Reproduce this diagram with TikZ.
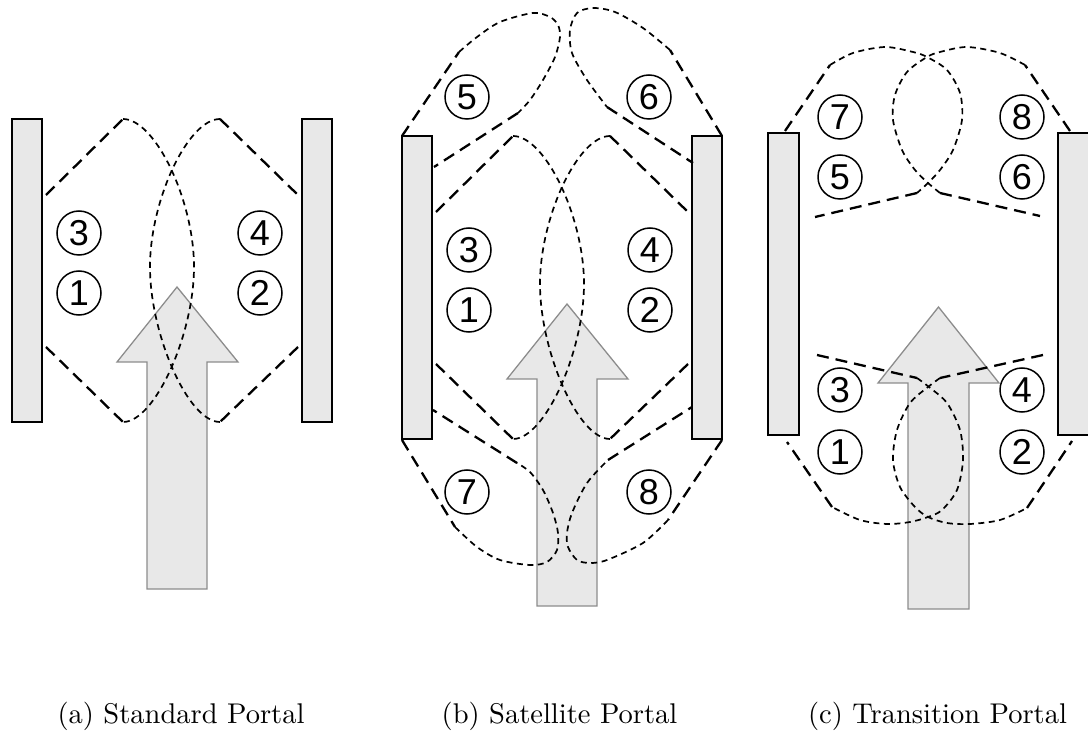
\documentclass[tikz,border=0pt]{standalone}
\usepackage{fontspec}
\newfontfamily\numfont{Liberation Sans}
\begin{document}
\begin{tikzpicture}[x=1pt,y=-1pt,
  wall/.style={draw=black,fill=black!9,line width=1.8pt},
  flow/.style={draw=black!45,fill=black!9,line width=1.3pt,line join=miter},
  longdash/.style={line width=2.3pt,dash pattern=on 12pt off 7pt},
  shortdash/.style={line width=1.7pt,dash pattern=on 6pt off 4.5pt},
  zone/.style={circle,draw,line width=1.5pt,minimum size=44pt,inner sep=0pt,
    font=\numfont\fontsize{36}{36}\selectfont},
  subcap/.style={scale=2.85,font=\normalsize,anchor=base},
  % two walls, the flow arrow and the four overlapping zones between them
  portal core/.pic={
    \path[wall] (12,119) rectangle (42,422);
    \path[wall] (302,119) rectangle (332,422);
    \path[flow] (177,287) -- (238,362) -- (207,362) -- (207,589) -- (147,589)
      -- (147,362) -- (117,362) -- cycle;
    \draw[longdash] (46,195) -- (123,119);
    \draw[longdash] (220,119) -- (298,195);
    \draw[longdash] (46,347) -- (123,422);
    \draw[longdash] (298,347) -- (220,422);
    \draw[shortdash] (123,119) .. controls (155,119) and (194,200) .. (194,267)
      .. controls (194,334) and (155,422) .. (123,422);
    \draw[shortdash] (220,119) .. controls (188,119) and (150,200) .. (150,267)
      .. controls (150,334) and (188,422) .. (220,422);
    \node[zone] (-z3) at (79,233) {3};
    \node[zone] (-z1) at (79,293) {1};
    \node[zone] (-z4) at (260,233) {4};
    \node[zone] (-z2) at (260,293) {2};
  }]
\useasboundingbox (0,0) rectangle (1088,735);

% (a) standard portal
\pic (pa) at (0,0) {portal core};

% (b) satellite portal: the same core plus four satellite zones
\pic (pb) at (390,17) {portal core};
\draw[longdash] (402,136) -- (459,52);
\draw[shortdash] plot[smooth] coordinates {(459,52) (477,37) (500,22) (533,13)
  (550,17) (558,25) (560,37) (555,57) (543,80) (530,100) (518,113)};
\draw[longdash] (518,113) -- (434,167);
\draw[longdash] (722,136) -- (670,50);
\draw[shortdash] plot[smooth] coordinates {(670,50) (643,28) (615,12) (593,8)
  (577,13) (570,30) (572,53) (587,80) (607,107)};
\draw[longdash] (607,107) -- (693,163);
\draw[longdash] (402,440) -- (455,527);
\draw[shortdash] plot[smooth] coordinates {(455,527) (477,547) (500,560) (530,565)
  (547,562) (557,550) (558,533) (553,513) (543,490) (530,472) (517,463)};
\draw[longdash] (517,463) -- (433,410);
\draw[longdash] (722,440) -- (668,520);
\draw[shortdash] plot[smooth] coordinates {(668,520) (643,543) (607,560) (590,563)
  (577,560) (568,547) (567,533) (572,513) (587,483) (608,460)};
\draw[longdash] (608,460) -- (692,407);
\node[zone] (b5) at (467,97) {5};
\node[zone] (b6) at (649,97) {6};
\node[zone] (b7) at (467,492) {7};
\node[zone] (b8) at (649,492) {8};

% (c) transition portal
\path[wall] (768,133) rectangle (799,435);
\path[wall] (1058,133) rectangle (1094,435);
\path[flow] (938.5,307) -- (999,383) -- (969,383) -- (969,609) -- (908,609)
  -- (908,383) -- (878,383) -- cycle;
\draw[longdash] (785,131) -- (830,65);
\draw[shortdash] plot[smooth] coordinates {(830,65) (853,53) (885,47) (913,52)
  (927,57) (947,70) (960,93) (962,120) (953,150) (940,170) (928,183) (917,193)};
\draw[longdash] (917,193) -- (815,217);
\draw[longdash] (1070,131) -- (1025,65);
\draw[shortdash] plot[smooth] coordinates {(1025,65) (1000,53) (967,47) (940,52)
  (927,57) (907,72) (895,95) (893,120) (902,150) (915,170) (928,183) (940,193)};
\draw[longdash] (940,193) -- (1040,216);
\draw[longdash] (817,355) -- (917,378);
\draw[shortdash] plot[smooth] coordinates {(917,378) (929,387) (947,403) (960,430)
  (963,460) (957,490) (942,510) (928,517) (910,522) (887,524) (860,520) (832,507)};
\draw[longdash] (832,507) -- (787,442);
\draw[longdash] (1043,355) -- (940,378);
\draw[shortdash] plot[smooth] coordinates {(940,378) (928,387) (910,403) (897,430)
  (893,460) (900,487) (915,507) (928,517) (947,523) (970,524) (1000,520) (1027,508)};
\draw[longdash] (1027,508) -- (1072,441);
\node[zone] (c7) at (840,117) {7};
\node[zone] (c8) at (1022,117) {8};
\node[zone] (c5) at (840,177) {5};
\node[zone] (c6) at (1022,177) {6};
\node[zone] (c3) at (840,390) {3};
\node[zone] (c4) at (1022,390) {4};
\node[zone] (c1) at (840,452) {1};
\node[zone] (c2) at (1022,452) {2};

% sub-captions
\node[subcap] (capa) at (181,723) {(a) Standard Portal};
\node[subcap] (capb) at (559.5,723) {(b) Satellite Portal};
\node[subcap] (capc) at (937.5,723) {(c) Transition Portal};
\end{tikzpicture}
\end{document}
